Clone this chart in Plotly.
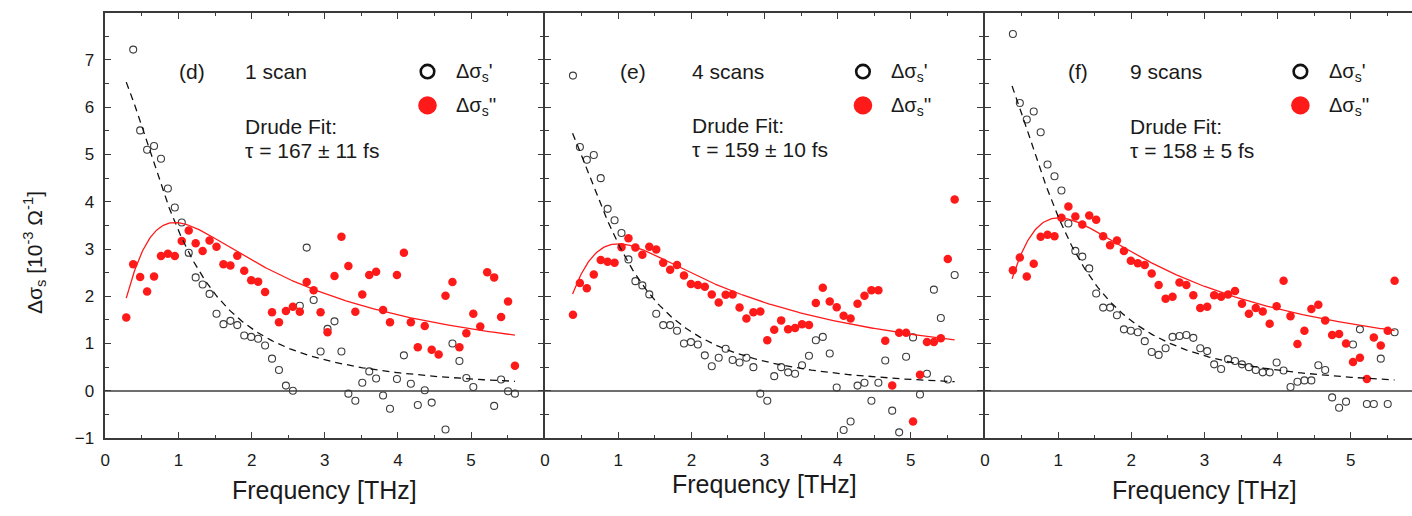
import numpy as np
import plotly.graph_objects as go

# Frequency grid of the THz spectra (THz)
FREQ_THZ = [0.286, 0.381, 0.476, 0.571, 0.666, 0.761, 0.855, 0.950, 1.045, 1.140,
            1.235, 1.330, 1.425, 1.520, 1.615, 1.710, 1.804, 1.899, 1.994, 2.089,
            2.184, 2.279, 2.374, 2.469, 2.564, 2.659, 2.753, 2.848, 2.943, 3.038,
            3.133, 3.228, 3.323, 3.418, 3.513, 3.608, 3.702, 3.797, 3.892, 3.987,
            4.082, 4.177, 4.272, 4.367, 4.462, 4.557, 4.651, 4.746, 4.841, 4.936,
            5.031, 5.126, 5.221, 5.316, 5.411, 5.506, 5.600]

# Real part of the sheet photoconductivity, 10^-3 Ohm^-1
REAL_1SCAN = [None, 7.22, 5.51, 5.10, 5.18, 4.91, 4.28, 3.88, 3.56, 2.92,
              2.40, 2.25, 2.05, 1.63, 1.41, 1.48, 1.39, 1.17, 1.14, 1.10,
              0.96, 0.68, 0.44, 0.11, 0.00, 1.80, 3.03, 1.92, 0.83, 1.31,
              1.47, 0.83, -0.06, -0.21, 0.17, 0.41, 0.26, -0.10, -0.38, 0.25,
              0.75, 0.15, -0.30, 0.01, -0.25, None, -0.82, 1.00, 0.63, 0.27,
              0.08, None, None, -0.32, 0.24, -0.01, -0.06]
REAL_4SCAN = [None, 6.67, 5.16, 4.89, 4.99, 4.50, 3.85, 3.61, 3.34, 2.78,
              2.32, 2.23, 2.04, 1.63, 1.39, 1.39, 1.27, 1.00, 1.03, 0.98,
              0.75, 0.52, 0.70, 0.89, 0.65, 0.60, 0.70, 0.50, -0.06, -0.21,
              0.31, 0.50, 0.39, 0.36, 0.54, 0.74, 1.07, 1.14, 0.79, 0.07,
              -0.83, -0.65, 0.11, 0.17, -0.21, 0.17, 0.64, -0.42, -0.88, 0.72,
              1.13, -0.08, 0.36, 2.14, 1.54, 0.24, 2.45]
REAL_9SCAN = [None, 7.55, 6.09, 5.74, 5.91, 5.47, 4.79, 4.54, 4.24, 3.54,
              2.96, 2.84, 2.59, 2.06, 1.76, 1.76, 1.60, 1.30, 1.27, 1.24,
              1.05, 0.82, 0.76, 0.90, 1.14, 1.16, 1.18, 1.12, 0.90, 0.84,
              0.56, 0.46, 0.67, 0.63, 0.56, 0.50, 0.44, 0.39, 0.39, 0.60,
              0.43, 0.08, 0.19, 0.22, 0.22, 0.54, 0.44, -0.14, -0.36, -0.23,
              0.98, 1.30, -0.28, -0.28, 0.68, -0.28, 1.24]

# Imaginary part of the sheet photoconductivity, 10^-3 Ohm^-1
IMAG_1SCAN = [1.55, 2.68, 2.41, 2.10, 2.42, 2.85, 2.90, 2.85, 3.17, 3.39,
              3.12, 2.96, 3.18, 3.05, 2.68, 2.65, 2.86, 2.54, 2.34, 2.31,
              2.09, 1.66, 1.45, 1.69, 1.78, 1.67, 2.30, 2.13, 1.66, 1.24,
              2.43, 3.26, 2.64, 1.67, 2.04, 2.45, 2.52, 1.71, 1.45, 2.45,
              2.92, 1.45, 0.92, 1.37, 0.87, 0.77, 2.01, 2.30, 0.92, 1.22,
              1.63, 1.36, 2.51, 2.40, 1.56, 1.89, 0.53]
IMAG_4SCAN = [None, 1.61, 2.28, 2.17, 2.46, 2.77, 2.73, 2.71, 3.04, 3.23,
              3.03, 2.88, 3.05, 2.99, 2.71, 2.56, 2.66, 2.44, 2.26, 2.24,
              2.20, 2.04, 1.87, 2.03, 2.04, 1.76, 1.53, 1.66, 1.68, 1.07,
              1.29, 1.49, 1.30, 1.33, 1.41, 1.39, 1.86, 2.18, 1.89, 1.77,
              1.59, 1.53, 1.84, 2.01, 2.13, 2.13, 1.06, 0.11, 1.23, 1.23,
              -0.65, 0.34, 1.03, 1.03, 1.11, 2.79, 4.05]
IMAG_9SCAN = [None, 2.55, 2.82, 2.42, 2.69, 3.26, 3.30, 3.27, 3.66, 3.90,
              3.69, 3.52, 3.71, 3.62, 3.27, 3.08, 3.18, 2.96, 2.75, 2.70,
              2.66, 2.48, 2.24, 1.95, 1.99, 2.29, 2.24, 2.02, 1.75, 1.78,
              2.02, 1.99, 2.04, 2.11, 1.84, 1.63, 1.75, 1.68, 1.42, 1.79,
              2.33, 1.58, 0.99, 1.27, 1.73, 1.82, 1.49, 1.18, 1.20, 1.00,
              0.61, 0.70, 0.25, 1.13, 0.96, 1.27, 2.33]

PANEL_TAGS = ["(d)", "(e)", "(f)"]
SCAN_LABELS = ["1 scan", "4 scans", "9 scans"]
TAU_FS = [167, 159, 158]          # Drude scattering time
TAU_ERR_FS = [11, 10, 5]
SIGMA0 = [7.12, 6.22, 7.32]       # DC sheet conductivity of the fit
FIT_START_THZ = [0.286, 0.376, 0.37]
FIT_END_THZ = 5.6

REAL = [REAL_1SCAN, REAL_4SCAN, REAL_9SCAN]
IMAG = [IMAG_1SCAN, IMAG_4SCAN, IMAG_9SCAN]

W, H = 1412, 516
FONT = "Arial, 'Liberation Sans', sans-serif"
INK = "#1a1a1a"
FRAME = "#3a3a3a"
RED = "#ff1a1a"

# panel placement in pixels (left edge, right edge of each plot area)
PX_PER_THZ = 73.4
PANEL_PX = [(100.7, 540.3), (542.0, 981.5), (983.5, W)]
Y_TOP_PX, Y_BOT_PX = 13.0, 446.7


def px(x):
    return x / W


def py(y):
    return 1 - y / H


def drude(f_thz, sigma0, tau_fs):
    wt = 2 * np.pi * f_thz * tau_fs * 1e-3
    return sigma0 / (1 + wt ** 2), sigma0 * wt / (1 + wt ** 2)


fig = go.Figure()
shapes = []
annotations = []

for i in range(3):
    sfx = "" if i == 0 else str(i + 1)
    xa, ya = "x" + sfx, "y" + sfx

    fig.add_trace(go.Scatter(
        x=FREQ_THZ, y=REAL[i], mode="markers", xaxis=xa, yaxis=ya,
        marker=dict(symbol="circle-open", size=7, color="#3c3c3c",
                    line=dict(width=1.1, color="#3c3c3c")),
        showlegend=False, cliponaxis=False))
    fig.add_trace(go.Scatter(
        x=FREQ_THZ, y=IMAG[i], mode="markers", xaxis=xa, yaxis=ya,
        marker=dict(symbol="circle", size=8.5, color=RED, line=dict(width=0)),
        showlegend=False, cliponaxis=False))

    f_fit = np.linspace(FIT_START_THZ[i], FIT_END_THZ, 300)
    re_fit, im_fit = drude(f_fit, SIGMA0[i], TAU_FS[i])
    fig.add_trace(go.Scatter(
        x=f_fit, y=re_fit, mode="lines", xaxis=xa, yaxis=ya,
        line=dict(color="#111111", width=1.3, dash="7px,5px"),
        showlegend=False, hoverinfo="skip"))
    fig.add_trace(go.Scatter(
        x=f_fit, y=im_fit, mode="lines", xaxis=xa, yaxis=ya,
        line=dict(color=RED, width=1.3),
        showlegend=False, hoverinfo="skip"))

    x0, x1 = PANEL_PX[i]
    x_hi = (x1 - x0) / PX_PER_THZ

    common_ticks = dict(ticks="inside", tickcolor=FRAME, tickwidth=1.2,
                        showline=True, linecolor=FRAME, linewidth=1.6,
                        showgrid=False,
                        tickfont=dict(family=FONT, size=17, color=INK))

    fig.layout["xaxis" + sfx] = dict(
        domain=[px(x0), px(x1)], range=[0, x_hi], anchor=ya,
        tickvals=[0, 1, 2, 3, 4, 5], ticklen=6, mirror="ticks",
        zeroline=False, ticklabelstandoff=6,
        minor=dict(dtick=0.5, ticks="inside", ticklen=3, tickcolor=FRAME,
                   tickwidth=1.1, showgrid=False),
        **common_ticks)
    fig.layout["yaxis" + sfx] = dict(
        domain=[py(Y_BOT_PX), py(Y_TOP_PX)], range=[-1, 8], anchor=xa,
        tickvals=[-1, 0, 1, 2, 3, 4, 5, 6, 7], ticklen=6,
        mirror="ticks" if i < 2 else False,
        showticklabels=(i == 0), ticklabelstandoff=6,
        zeroline=True, zerolinecolor="#6e6e6e", zerolinewidth=1.5,
        minor=dict(dtick=0.5, ticks="inside", ticklen=4, tickcolor=FRAME,
                   tickwidth=1.1, showgrid=False),
        **common_ticks)

    # panel texts
    tag_x = [173.0, 615.0, 1065.0][i]
    txt_x = [239.0, 687.0, 1127.0][i]
    fit_y = [128.5, 127.5, 128.5][i]
    tau_y = [153.5, 152.5, 153.5][i]
    for x, y, t in [(tag_x, 73, PANEL_TAGS[i]), (txt_x, 73, SCAN_LABELS[i]),
                    (txt_x, fit_y, "Drude Fit:"),
                    (txt_x, tau_y, "\u03c4 = %d \u00b1 %d fs" % (TAU_FS[i], TAU_ERR_FS[i]))]:
        annotations.append(dict(x=px(x), y=py(y), xref="paper", yref="paper",
                                text=t, showarrow=False, xanchor="left",
                                yanchor="middle",
                                font=dict(family=FONT, size=21, color=INK)))

    # key for the two data series
    key_x = [424.0, 861.0, 1300.0][i]
    key_text_x = [451.0, 887.5, 1327.0][i]
    ro = 6.8
    shapes.append(dict(type="circle", xref="paper", yref="paper",
                       x0=px(key_x - ro), x1=px(key_x + ro),
                       y0=py(73 + ro), y1=py(73 - ro),
                       line=dict(color="#111111", width=2.6)))
    rf = 9.3
    shapes.append(dict(type="circle", xref="paper", yref="paper",
                       x0=px(key_x - rf), x1=px(key_x + rf),
                       y0=py(107.5 + rf), y1=py(107.5 - rf),
                       fillcolor=RED, line=dict(width=0)))
    for y, t in [(74, "\u0394\u03c3<sub>s</sub>'"), (109, "\u0394\u03c3<sub>s</sub>''")]:
        annotations.append(dict(x=px(key_text_x), y=py(y), xref="paper", yref="paper",
                                text=t, showarrow=False, xanchor="left",
                                yanchor="middle",
                                font=dict(family=FONT, size=20, color=INK)))

    # axis title below each panel
    title_y = [500.0, 494.0, 500.0][i]
    annotations.append(dict(x=px(x0 + 3 * PX_PER_THZ), y=py(title_y),
                            xref="paper", yref="paper", text="Frequency [THz]",
                            showarrow=False, xanchor="center", yanchor="middle",
                            font=dict(family=FONT, size=25, color=INK)))

annotations.append(dict(x=px(29), y=py(257), xref="paper", yref="paper",
                        text="\u0394\u03c3<sub>s</sub> [10<sup>-3</sup> \u03a9<sup>-1</sup>]",
                        textangle=-90, showarrow=False, xanchor="center",
                        yanchor="middle",
                        font=dict(family=FONT, size=21, color=INK)))

fig.update_layout(
    width=W, height=H,
    margin=dict(l=0, r=0, t=0, b=0),
    paper_bgcolor="white", plot_bgcolor="white",
    shapes=shapes, annotations=annotations,
    showlegend=False,
)

fig.write_html("out.html")
